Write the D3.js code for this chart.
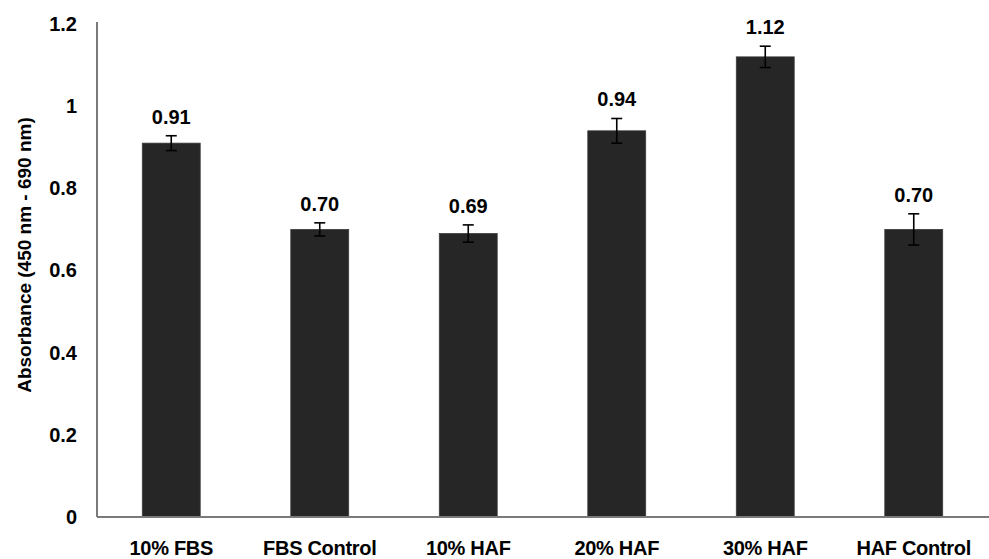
<!DOCTYPE html>
<html>
<head>
<meta charset="utf-8">
<script src="https://cdn.jsdelivr.net/npm/d3@7"></script>
<style>
  html, body { margin: 0; padding: 0; background: #fff; }
  text { font-family: "Liberation Sans", Arial, sans-serif; font-weight: bold; fill: #000; }
</style>
</head>
<body>
<svg id="chart" width="989" height="559"></svg>
<script>
const categories = ["10% FBS", "FBS Control", "10% HAF", "20% HAF", "30% HAF", "HAF Control"];
const values = [0.91, 0.70, 0.69, 0.94, 1.12, 0.70];
const errors = [0.018, 0.016, 0.021, 0.030, 0.026, 0.038];
const valueLabels = ["0.91", "0.70", "0.69", "0.94", "1.12", "0.70"];
const yTicks = [0, 0.2, 0.4, 0.6, 0.8, 1, 1.2];
const yTitle = "Absorbance (450 nm - 690 nm)";

const svg = d3.select("#chart");
const x0 = 97, x1 = 988, yBottom = 517, yTop = 24;

const x = d3.scaleBand().domain(categories).range([x0, x1]).paddingInner(0.61).paddingOuter(0.305);
const y = d3.scaleLinear().domain([0, 1.2]).range([yBottom, yTop]);

// bars
svg.append("g").selectAll("rect").data(values).join("rect")
  .attr("x", (d, i) => x(categories[i]))
  .attr("y", d => y(d))
  .attr("width", x.bandwidth())
  .attr("height", d => y(0) - y(d))
  .attr("fill", "#262626")
  .attr("stroke", "#3a3a3a")
  .attr("stroke-width", 0.8);

// error bars
const eg = svg.append("g").attr("stroke", "#000").attr("stroke-width", 1.6);
values.forEach((v, i) => {
  const cx = x(categories[i]) + x.bandwidth() / 2;
  const hi = y(v + errors[i]), lo = y(v - errors[i]);
  eg.append("line").attr("x1", cx).attr("x2", cx).attr("y1", hi).attr("y2", lo);
  eg.append("line").attr("x1", cx - 5.5).attr("x2", cx + 5.5).attr("y1", hi).attr("y2", hi);
  eg.append("line").attr("x1", cx - 5.5).attr("x2", cx + 5.5).attr("y1", lo).attr("y2", lo);
});

// value labels
svg.append("g").selectAll("text").data(values).join("text")
  .attr("x", (d, i) => x(categories[i]) + x.bandwidth() / 2)
  .attr("y", (d, i) => y(d + errors[i]) - 12)
  .attr("text-anchor", "middle")
  .attr("font-size", 20)
  .text((d, i) => valueLabels[i]);

// y axis
const yAxis = d3.axisLeft(y).tickValues(yTicks).tickSize(0).tickPadding(20)
  .tickFormat(d => d === 0 ? "0" : (d === 1 ? "1" : d3.format(".1f")(d)));
const ga = svg.append("g").attr("transform", `translate(${x0},0)`).call(yAxis);
ga.select(".domain").attr("stroke", "#7a7a7a").attr("stroke-width", 2).attr("d", `M0,${yTop - 2}V${yBottom}`);
ga.selectAll("text").attr("font-size", 20).attr("font-family", "Liberation Sans, Arial, sans-serif").attr("font-weight", "bold").attr("fill", "#000");

// x axis
const xAxis = d3.axisBottom(x).tickSize(0).tickPadding(24);
const gx = svg.append("g").attr("transform", `translate(0,${yBottom})`).call(xAxis);
gx.select(".domain").attr("stroke", "#7a7a7a").attr("stroke-width", 2).attr("d", `M${x0},0H989`);
gx.selectAll("text").attr("font-size", 20).attr("font-family", "Liberation Sans, Arial, sans-serif").attr("font-weight", "bold").attr("fill", "#000").attr("letter-spacing", "-0.3px");

// y title
svg.append("text")
  .attr("transform", `translate(31,255) rotate(-90)`)
  .attr("text-anchor", "middle")
  .attr("font-size", 19)
  .text(yTitle);
</script>
</body>
</html>
